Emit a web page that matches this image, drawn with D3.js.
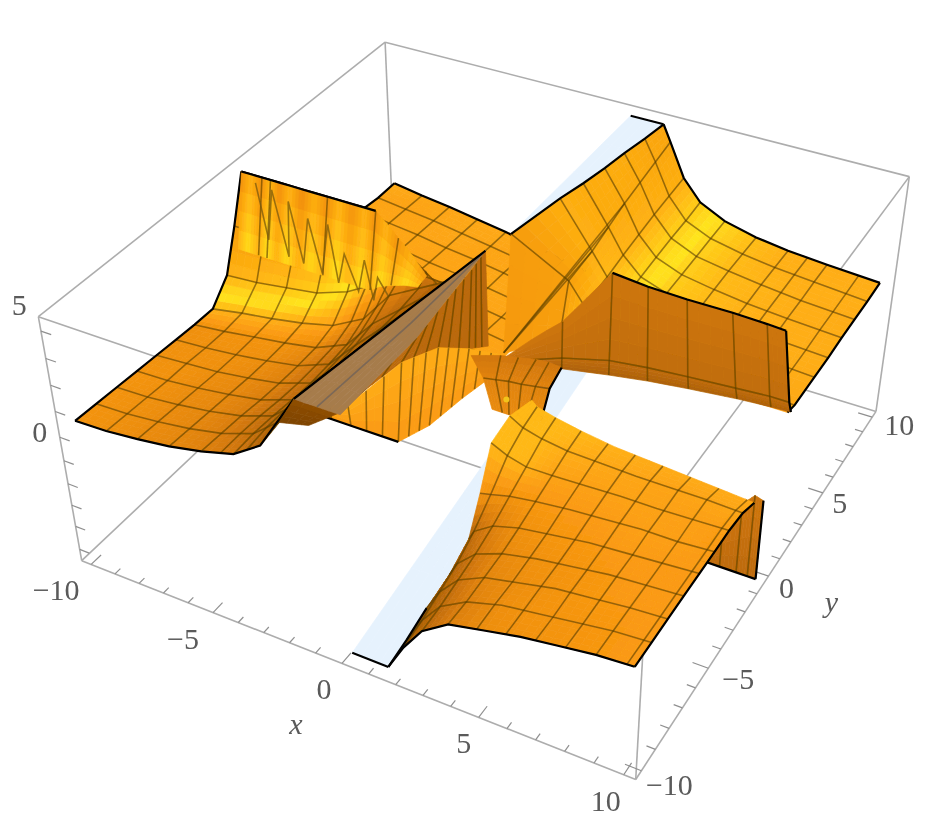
<!DOCTYPE html>
<meta charset="utf-8">
<style>
  body { margin: 0; background: #fff; }
  text { font-family: "Liberation Serif", serif; fill: #5a5a5a; font-size: 30px; }
</style>

<!-- Load d3.js -->
<script src="https://d3js.org/d3.v7.min.js"></script>

<div id="my_dataviz"></div>

<script>
    // ---- tick values
    const xTicks = d3.range(-10, 11, 1), yTicks = d3.range(-10, 11, 1);
    const zTicks = [-4.7, -3.7, -2.8, -1.9, -0.95, 0, 1.15, 2.3, 3.45, 4.6];
    const xLabels = [-10, -5, 0, 5, 10], yLabels = [-10, -5, 0, 5, 10], zLabels = [0, 5];

    // ---- surface values
    // front sheet (x > 1, y < 0), its first column follows the neck
    const frontXs = [1.5, 2.1, 2.8, 3.75, 5, 6.25, 7.5, 8.75, 10];
    const frontYs = [-10, -8.85, -7.7, -6.55, -5.4, -4.25, -3.1, -2, -1];
    const frontEdgeX = [1.5, 1.5, 1.6, 1.8, 1.9, 1.7, 1.5, 1.6, 1.9];
    const frontZ = [
        [-5, -3.9, -2.9, -2.2, -1.9, -1.6, -1.4, -1.2, -1.1],
        [-4.8, -3.7, -2.8, -2.2, -1.8, -1.6, -1.4, -1.2, -1.1],
        [-4.3, -3.4, -2.6, -2.1, -1.8, -1.5, -1.35, -1.2, -1.1],
        [-3.7, -3.1, -2.4, -2, -1.7, -1.5, -1.3, -1.2, -1.1],
        [-3, -2.6, -2.1, -1.8, -1.6, -1.4, -1.3, -1.2, -1.1],
        [-2, -1.9, -1.7, -1.55, -1.4, -1.3, -1.2, -1.2, -1.1],
        [-0.8, -1.1, -1.3, -1.3, -1.25, -1.2, -1.2, -1.15, -1.1],
        [-0.4, -0.7, -0.9, -1.05, -1.1, -1.15, -1.15, -1.15, -1.2],
        [-0.3, -0.5, -0.7, -0.9, -1.1, -1.2, -1.3, -1.4, -1.5]
    ];

    // back right sheet, its first column follows the slanted ridge
    const rightXs = [0, 1.7, 2.3, 3, 4, 5.25, 6.5, 8, 10];
    const rightYs = [1.35, 2, 3.75, 5, 6.25, 7.5, 8.75, 10];
    const rightRidgeX = [0.3, 0.05, 0.45, 0.7, 0.9, 1.05, 1.25, 1.4];
    const rightRidgeY = [0, 1, 3.75, 5, 6.25, 7.5, 8.75, 10];
    const rightZ = [
        [0.5, 0.6, 0.6, 0.6, 0.6, 0.6, 0.6, 0.6, 0.6],
        [5, 2.9, 2, 1.4, 1.1, 0.9, 0.75, 0.6, 0.45],
        [5, 3.1, 2.15, 1.5, 1.15, 0.9, 0.75, 0.6, 0.45],
        [5, 3.4, 2.35, 1.6, 1.2, 0.95, 0.8, 0.6, 0.45],
        [5, 3.7, 2.5, 1.7, 1.25, 1, 0.8, 0.65, 0.5],
        [5, 3.9, 2.65, 1.8, 1.3, 1.05, 0.85, 0.65, 0.5],
        [5, 4.1, 2.75, 1.85, 1.35, 1.05, 0.85, 0.7, 0.5],
        [5, 4.3, 2.85, 1.95, 1.4, 1.05, 0.85, 0.7, 0.55]
    ];

    // left sheet, its last column follows the edge of the grey cap
    const leftXs = [-10, -8.75, -7.5, -6.25, -5, -3.75, -2.7, 0];
    const leftYs = [-10, -8.9, -7.8, -6.7, -5.6, -4.5, -3.4, -2.3, -1.3, -0.6, 0.1];
    const leftEdgeX = [-1.3, -1.18, -1.05, -0.93, -0.8, -0.68, -0.55, -0.45, -1.2, -1.9, -2.6];
    const leftZ = [
        [0.6, 0.65, 0.8, 1, 1.3, 1.7, 2.5, 5],
        [0.55, 0.6, 0.75, 0.95, 1.25, 1.75, 2.7, 5],
        [0.5, 0.55, 0.7, 0.9, 1.2, 1.7, 2.7, 5],
        [0.45, 0.5, 0.65, 0.85, 1.1, 1.6, 2.7, 5],
        [0.4, 0.5, 0.6, 0.8, 1.05, 1.55, 2.7, 5],
        [0.35, 0.45, 0.6, 0.8, 1.05, 1.6, 2.8, 5],
        [0.3, 0.45, 0.65, 0.85, 1.1, 1.7, 3, 5],
        [0.3, 0.55, 0.75, 1, 1.35, 2.1, 3.5, 4.9],
        [1.2, 1.3, 1.5, 1.7, 2.2, 3, 4, 3.9],
        [3, 3, 3, 3.1, 3.3, 3.8, 3.9, 3.2],
        [5, 5, 5, 5, 5, 4.1, 2.8, 2.8]
    ];

    // back left plateau
    const backXs = [-10, -8.75, -7.5, -6.25, -5, -3.75, -2.5, -1.25];
    const backYs = [1.25, 2.5, 3.75, 5, 6.25, 7.5, 8.75, 10];
    const backZ = [
        [-0.9, -1, -1.1, -1.25, -1.35, -1.5, -1.7, -1.9],
        [-0.9, -1.05, -1.15, -1.3, -1.45, -1.6, -1.8, -2],
        [-0.95, -1.1, -1.2, -1.35, -1.55, -1.7, -1.9, -2.1],
        [-1, -1.1, -1.25, -1.4, -1.6, -1.8, -2, -2.2],
        [-1, -1.15, -1.3, -1.5, -1.65, -1.85, -2.05, -2.3],
        [-1, -1.2, -1.35, -1.55, -1.7, -1.9, -2.15, -2.4],
        [-1.1, -1.25, -1.4, -1.6, -1.8, -2, -2.25, -2.5],
        [-1.1, -1.3, -1.45, -1.65, -1.85, -2.1, -2.35, -2.6]
    ];

    // dark wall in front of the right sheet (y = 2)
    const wallBottomXs = [-0.9, 1.5, 3.3, 4.75, 6.25, 8, 9.2, 9.9];
    const wallTopXs = [-0.9, 1.5, 3.3, 4.6, 6, 7.6, 8.8, 9.45];
    const wallTop = [-1.5, 1, 3.8, 3.65, 3.6, 3.6, 3.55, 3.5];
    const wallMid = [-1.55, -0.6, -0.1, 0.1, 0.25, 0.4, 0.5, 0.5];
    const wallBottom = [-1.55, -1.05, -0.7, -0.45, -0.25, -0.05, 0.05, 0.1];

    // small wall behind the far end of the front sheet (y = -1)
    const stubXs = [8.3, 9, 9.6, 10, 10.3];
    const stubTop = [-3.8, -2.6, -1.7, -1.2, -1.3];
    const stubBottom = [-4.6, -4.6, -4.6, -4.6, -4.6];

    // spiky wall on the left sheet
    const spikeWallXs = [-10, -9.6, -9.15, -8.8, -8.4, -8, -7.5, -7, -6.5, -6, -5.5, -5, -4.6, -4.2, -3.75, -3.2, -2.7];
    const spikeTop = [5, 5, 5, 5, 5, 5, 5, 5, 5, 5, 5, 5, 5, 4.6, 4.1, 3.5, 2.8];
    const spikeLow = [1.9, 1.9, 1.9, 1.9, 1.9, 1.9, 1.9, 1.9, 1.9, 1.9, 1.9, 1.9, 1.9, 2.2, 2.4, 2.6, 2.7];
    const spikeTone = [0.1, -0.1, 0.1, -0.12, 0.1, -0.1, 0.12, -0.08, 0.1, -0.12, 0.08, -0.1, 0.1, -0.1, 0.08, -0.1, 0.05];
    const zigzagX = [-9.15, -8.8, -8.5, -8, -7.85, -7.4, -7.1, -6.65, -6.3, -6, -5.7, -5.2, -4.9, -4.6, -4.4, -4];
    const zigzagZ = [5, 2.6, 4.9, 2.1, 4.6, 2, 4.1, 1.8, 4.1, 1.6, 3, 1.5, 3, 1.3, 2.4, 1.7];

    // pieces given node by node as [x, y, z]
    const blueLow = [[[0.15, -10, -5], [1.5, -10, -5]], [[-1.45, 7.7, -5], [-0.1, 8, -5]]];
    const blueHigh = [[[0.05, 1, 5], [1.4, 1, 5]], [[0.1, 10, 5], [1.4, 10, 5]]];
    const greyCap = [
        [[-1.3, -10, 5], [-0.5, -10, 5], [0.3, -10, 5]],
        [[-0.75, -5, 5], [-0.25, -5, 5], [0.3, -5.6, 5]],
        [[-0.2, -0.3, 5], [-0.2, -0.3, 5], [-0.2, -0.3, 5]]
    ];
    const capWall = [
        [[0.3, -10, 5], [0.3, -5.6, 5], [0.1, -3.3, 5], [-0.05, -1.5, 5], [-0.2, -0.3, 5]],
        [[-0.05, -9.4, 4.7], [0.35, -6.6, 4.7], [0.95, -5.4, 4.7], [1.8, -5, 4.7], [2.25, -4.6, 4.7]]
    ];
    const underCap = [
        [[-1.35, -10, 4.7], [0.65, -10, 4.7], [2.25, -10, 4.7], [2.65, -8.9, 4.7], [2.85, -7.3, 4.7], [3.15, -5.6, 4.7]],
        [[-1.35, -10, 4.7], [0.05, -9.2, 4.7], [0.35, -6.6, 4.7], [0.95, -5.4, 4.7], [1.8, -5, 4.7], [2.85, -4.8, 4.7]]
    ];
    const wedge = [
        [[-1.9, -10, 3.8], [-0.85, -10, 4.1]],
        [[-1.3, -10, 5], [0.2, -10, 5]]
    ];
    const neck = [
        [[0, -0.3, -1.8], [0.4, -0.3, -1.8], [0.66, -0.3, -1.8], [1, -0.3, -1.8], [1.3, -0.3, -1.8], [1.9, -0.3, -1.6]],
        [[-1, 0.9, -1.6], [-0.5, 0.9, -1.5], [0, 0.9, -1.4], [0.5, 0.9, -1.35], [1.05, 0.9, -1.25], [1.6, 0.9, -1.15]],
        [[-2.1, 2, -1.7], [-0.9, 2, -1.3], [-0.2, 2, -1.15], [0.5, 2, -1], [1, 2, -0.95], [1.5, 2, -1]]
    ];
    const neckDot = [0.56, -0.3, -1.2];

    // ---- layout
    const width = 939, height = 835, subdiv = 4;
    const boxMin = -10.4, boxMax = 10.4, boxZMin = -5.2, boxZMax = 5.2;
    const xLabelDx = [-35, -30, -18, -15, -18], yLabelDx = [28, 30, 18, 17, 27], yLabelDy = [24, 21, 22, 20, 18];
    const zLabelDy = [5, -6];

    // where the corners of the box land on the page, [xi, yi, zi, px, py]
    const cameraCorners = [
        [0, 0, 1, 40, 315], [0, 1, 1, 385, 41], [1, 1, 1, 908, 176], [1, 0, 1, 650, 530],
        [0, 0, 0, 80, 560], [1, 0, 0, 636, 778], [1, 1, 0, 877, 410], [0, 1, 0, 395, 268]
    ];

    const xScale = d3.scaleLinear().domain([boxMin, boxMax]).range([0, 1]);
    const yScale = d3.scaleLinear().domain([boxMin, boxMax]).range([0, 1]);
    const zScale = d3.scaleLinear().domain([boxZMin, 0, boxZMax]).range([0, 0.53, 1]);

    // fit a camera matrix to the 8 corners (normal equations)
    function fitCamera(corners) {
        const rows = [];
        corners.forEach(function (c) {
            const [X, Y, Z, u, v] = c;
            rows.push([X, Y, Z, 1, 0, 0, 0, 0, -u * X, -u * Y, -u * Z, u]);
            rows.push([0, 0, 0, 0, X, Y, Z, 1, -v * X, -v * Y, -v * Z, v]);
        });
        const n = 11;
        const m = d3.range(n).map(i => d3.range(n + 1).map(j => d3.sum(rows, r => r[i] * r[j])));
        for (let i = 0; i < n; i++) {
            let best = i;
            for (let k = i + 1; k < n; k++) if (Math.abs(m[k][i]) > Math.abs(m[best][i])) best = k;
            [m[i], m[best]] = [m[best], m[i]];
            for (let k = 0; k < n; k++) {
                if (k === i) continue;
                const f = m[k][i] / m[i][i];
                for (let j = i; j <= n; j++) m[k][j] -= f * m[i][j];
            }
        }
        return m.map((r, i) => r[n] / r[i]);
    }
    const cam = fitCamera(cameraCorners);

    function project(p) {
        const X = xScale(p[0]), Y = yScale(p[1]), Z = zScale(p[2]);
        const w = cam[8] * X + cam[9] * Y + cam[10] * Z + 1;
        return [(cam[0] * X + cam[1] * Y + cam[2] * Z + cam[3]) / w,
                (cam[4] * X + cam[5] * Y + cam[6] * Z + cam[7]) / w];
    }

    // tone -> colour, bright yellow on moderate slopes that face the light
    const toneColor = d3.scaleLinear()
        .domain([-1, -0.6, -0.25, 0, 0.12, 0.3, 0.55, 0.8])
        .range(["#6a3800", "#9c5605", "#d67a0a", "#fb9a12", "#ffb015", "#ffe41e", "#ffb312", "#f08a0e"]);

    const svg = d3.select("#my_dataviz")
        .append("svg")
        .attr("width", width)
        .attr("height", height);

    svg.append("defs").append("filter").attr("id", "soft")
        .attr("filterUnits", "userSpaceOnUse")
        .attr("x", 0).attr("y", 0).attr("width", width).attr("height", height)
        .append("feGaussianBlur").attr("stdDeviation", 0.6);

    const root = svg.append("g").attr("filter", "url(#soft)");
    const line = d3.line();

    // ---- box
    const edges3d = [
        [[0, 0, 1], [0, 1, 1]], [[0, 1, 1], [1, 1, 1]], [[1, 1, 1], [1, 0, 1]], [[1, 0, 1], [0, 0, 1]],
        [[0, 0, 0], [0, 1, 0]], [[0, 1, 0], [1, 1, 0]], [[1, 1, 0], [1, 0, 0]], [[1, 0, 0], [0, 0, 0]],
        [[0, 0, 0], [0, 0, 1]], [[0, 1, 0], [0, 1, 1]], [[1, 1, 0], [1, 1, 1]], [[1, 0, 0], [1, 0, 1]]
    ];
    const corner = c => [c[0] ? boxMax : boxMin, c[1] ? boxMax : boxMin, c[2] ? boxZMax : boxZMin];
    root.append("g").selectAll("path").data(edges3d).join("path")
        .attr("d", d => line(d.map(c => project(corner(c)))))
        .attr("fill", "none").attr("stroke", "#adadad").attr("stroke-width", 1.6);

    // ticks
    const ticks = root.append("g").attr("stroke", "#8f8f8f").attr("stroke-width", 1.2);
    function tick(from, to) {
        ticks.append("path").attr("d", line([project(from), project(to)])).attr("fill", "none");
    }
    xTicks.forEach(function (v) {
        const len = v % 5 === 0 ? 0.55 : 0.3;
        tick([v, boxMin, boxZMin], [v, boxMin + len, boxZMin]);
    });
    yTicks.forEach(function (v) {
        const len = v % 5 === 0 ? 0.55 : 0.3;
        tick([boxMax, v, boxZMin], [boxMax - len, v, boxZMin]);
    });
    zTicks.forEach(function (v) {
        tick([boxMin, boxMin, v], [boxMin + 0.4, boxMin, v]);
    });

    const fmt = v => (v < 0 ? "\u2212" : "") + Math.abs(v);
    function label(txt, p, dx, dy, italic) {
        const q = project(p);
        root.append("text").attr("x", q[0] + dx).attr("y", q[1] + dy)
            .attr("text-anchor", "middle")
            .style("font-style", italic ? "italic" : "normal")
            .text(txt);
    }
    xLabels.forEach((v, i) => label(fmt(v), [v, boxMin, boxZMin], xLabelDx[i], 36));
    yLabels.forEach((v, i) => label(fmt(v), [boxMax, v, boxZMin], yLabelDx[i], yLabelDy[i]));
    zLabels.forEach((v, i) => label(fmt(v), [boxMin, boxMin, v], -20, zLabelDy[i]));
    label("x", [0, boxMin, boxZMin], -46, 71, true);
    label("y", [boxMax, 0, boxZMin], 63, 36, true);

    // ---- patch helpers
    function gridNodes(xs, ys, zs, firstX, lastX, firstY) {
        return ys.map(function (y, i) {
            return xs.map(function (x, j) {
                let px = x, py = y;
                if (firstX && j === 0) px = firstX[i];
                if (lastX && j === xs.length - 1) px = lastX[i];
                if (firstY && j === 0) py = firstY[i];
                return [px, py, zs[i][j]];
            });
        });
    }

    const lerp = (a, b, t) => a + (b - a) * t;

    // slope tone of a node, taken from its neighbours
    function nodeTone(nodes, i, j, weights) {
        const up = nodes[Math.min(i + 1, nodes.length - 1)][j], dn = nodes[Math.max(i - 1, 0)][j];
        const rt = nodes[i][Math.min(j + 1, nodes[i].length - 1)], lt = nodes[i][Math.max(j - 1, 0)];
        const sc = [1 / 20.8, 1 / 20.8, 0.4 / 10.4];
        const a = rt.map((v, k) => (v - lt[k]) * sc[k]);
        const b = up.map((v, k) => (v - dn[k]) * sc[k]);
        let n = [a[1] * b[2] - a[2] * b[1], a[2] * b[0] - a[0] * b[2], a[0] * b[1] - a[1] * b[0]];
        const len = Math.hypot(n[0], n[1], n[2]) || 1;
        if (n[2] < 0) n = n.map(v => -v);
        return (weights[0] * n[0] - weights[1] * n[1]) / len;
    }

    function drawPatch(nodes, opts) {
        opts = opts || {};
        const g = root.append("g");
        const nr = nodes.length, nc = nodes[0].length;
        const weights = opts.weights || [0.75, 0.75];
        const toneMax = opts.toneMax === undefined ? 2 : opts.toneMax;
        const tones = nodes.map(function (row, i) {
            return row.map(function (d, j) {
                if (opts.toneRows) return opts.toneRows[i] + (opts.toneCols ? opts.toneCols[j] : 0);
                return Math.min(toneMax, nodeTone(nodes, i, j, weights) + (opts.toneBase || 0));
            });
        });
        const point = function (i, j, s, t) {
            const a = nodes[i][j], b = nodes[i][j + 1], c = nodes[i + 1][j + 1], d = nodes[i + 1][j];
            return [0, 1, 2].map(k => lerp(lerp(a[k], b[k], t), lerp(d[k], c[k], t), s));
        };
        const cells = [];
        for (let i = 0; i < nr - 1; i++) {
            for (let j = 0; j < nc - 1; j++) {
                for (let s = 0; s < subdiv; s++) {
                    for (let t = 0; t < subdiv; t++) {
                        const s0 = s / subdiv, s1 = (s + 1) / subdiv, t0 = t / subdiv, t1 = (t + 1) / subdiv;
                        const tm = (t0 + t1) / 2, sm = (s0 + s1) / 2;
                        cells.push({
                            poly: [point(i, j, s0, t0), point(i, j, s0, t1), point(i, j, s1, t1), point(i, j, s1, t0)].map(project),
                            tone: lerp(lerp(tones[i][j], tones[i][j + 1], tm), lerp(tones[i + 1][j], tones[i + 1][j + 1], tm), sm)
                        });
                    }
                }
            }
        }
        g.selectAll("path.cell").data(cells).join("path")
            .attr("class", "cell")
            .attr("d", d => line(d.poly) + "Z")
            .attr("fill", d => opts.fill || toneColor(d.tone))
            .attr("stroke", d => opts.fill || toneColor(d.tone))
            .attr("stroke-width", 0.7);

        // mesh lines, a column index may be fractional
        const meshColor = opts.meshColor || "#5a3f00", meshOpacity = opts.meshOpacity || 0.62;
        const meshPath = pts => g.append("path").attr("d", line(pts.map(project)))
            .attr("fill", "none").attr("stroke", meshColor).attr("stroke-opacity", meshOpacity).attr("stroke-width", 1.6);
        if (opts.meshRows !== false) {
            for (let i = 1; i < nr - 1; i++) meshPath(nodes[i]);
        }
        const cols = opts.meshCols || d3.range(1, nc - 1);
        cols.forEach(function (c) {
            const j = Math.min(Math.floor(c), nc - 2), t = c - j;
            meshPath(nodes.map(r => [0, 1, 2].map(q => lerp(r[j][q], r[j + 1][q], t))));
        });
        if (opts.stripes) {
            for (let j = 0; j < nc - 1; j++) {
                for (let k = 1; k < opts.stripes; k++) {
                    const t = k / opts.stripes;
                    meshPath(nodes.map(r => [0, 1, 2].map(q => lerp(r[j][q], r[j + 1][q], t))));
                }
            }
        }

        // black outline pieces
        (opts.edges || []).forEach(function (e) {
            let pts;
            if (e.row !== undefined) pts = nodes[e.row];
            else pts = nodes.map(r => r[e.col]);
            pts = pts.slice(e.from || 0, e.to === undefined ? pts.length : e.to + 1);
            g.append("path").attr("d", line(pts.map(project)))
                .attr("fill", "none").attr("stroke", "#000").attr("stroke-width", 2.2);
        });
    }

    // ---- surface, painted back to front
    const blue = "#e6f2fd";
    drawPatch(blueLow, { fill: blue, edges: [{ row: 0 }], meshRows: false, meshCols: [] });
    drawPatch(blueHigh, { fill: blue, edges: [{ row: 1 }], meshRows: false, meshCols: [] });

    drawPatch(gridNodes(backXs, backYs, backZ), { edges: [{ row: 7 }, { col: 0 }] });

    const rightNodes = gridNodes(rightXs, rightYs, rightZ, rightRidgeX, null, rightRidgeY);
    drawPatch(rightNodes, {
        weights: [0.62, 0.35],
        toneBase: 0.06,
        meshCols: [1, 2, 3, 4, 5, 6, 6.5, 7, 7.6],
        edges: [{ row: 7 }, { col: 8 }, { col: 0, from: 1 }]
    });
    // fan of mesh lines rising from the foot of the ridge
    d3.range(2, 5).forEach(function (i) {
        root.append("path")
            .attr("d", line([project(rightNodes[0][0]), project(rightNodes[i][1])]))
            .attr("fill", "none").attr("stroke", "#5a3f00").attr("stroke-opacity", 0.6).attr("stroke-width", 1.6);
    });

    const wallRows = [
        wallBottomXs.map((x, j) => [x, 2, wallBottom[j]]),
        wallBottomXs.map((x, j) => [lerp(x, wallTopXs[j], 0.2), 2, wallMid[j]]),
        wallTopXs.map((x, j) => [x, 2, wallTop[j]])
    ];
    drawPatch(wallRows, {
        toneRows: [-0.5, -0.38, -0.3],
        edges: [{ row: 2, from: 2 }, { col: 7 }]
    });

    drawPatch([stubXs.map((x, j) => [x, -1, stubBottom[j]]), stubXs.map((x, j) => [x, -1, stubTop[j]])], {
        toneRows: [-0.4, -0.3],
        edges: [{ row: 0 }, { col: 4 }]
    });

    drawPatch(gridNodes(leftXs, leftYs, leftZ, null, leftEdgeX), {
        meshCols: [1, 2, 3, 4, 4.6, 5, 5.5, 6, 6.5],
        edges: [{ row: 0 }, { col: 0 }, { row: 10, to: 4 }, { col: 7, to: 7 }]
    });

    // spiky band on top of the left sheet
    drawPatch([
        spikeWallXs.map((x, j) => [x, -0.5, spikeLow[j]]),
        spikeWallXs.map((x, j) => [x, 0.1, spikeTop[j]])
    ], {
        toneRows: [0.42, 0.68],
        toneCols: spikeTone,
        meshRows: false,
        meshCols: [2, 3, 8, 12, 14],
        edges: [{ row: 1, to: 12 }]
    });
    root.append("path")
        .attr("d", line(zigzagX.map((x, i) => project([x, -0.3, zigzagZ[i]]))))
        .attr("fill", "none").attr("stroke", "#7a5a08").attr("stroke-opacity", 0.75).attr("stroke-width", 1.6);

    drawPatch(capWall, { toneRows: [-0.42, -0.42], stripes: 3, meshRows: false });
    drawPatch(underCap, { toneRows: [0, 0.1], stripes: 3, meshRows: false, edges: [{ row: 0, to: 2 }] });
    drawPatch(wedge, { toneRows: [-0.85, -0.7], meshRows: false, meshCols: [] });
    drawPatch(greyCap, {
        fill: "#a67b4c", meshColor: "#5f5a5a", meshRows: false,
        edges: [{ col: 0 }]
    });

    drawPatch(neck, { toneRows: [-0.12, -0.18, -0.28], stripes: 1, edges: [{ col: 5 }] });
    root.append("circle")
        .attr("cx", project(neckDot)[0]).attr("cy", project(neckDot)[1])
        .attr("r", 3).attr("fill", "#f2c41a");

    drawPatch(gridNodes(frontXs, frontYs, frontZ, frontEdgeX), {
        weights: [0.75, 0.05],
        toneBase: 0.05,
        toneMax: 0.15,
        meshCols: [1, 2, 3, 3.8, 4.6, 5.4, 6.2, 7, 7.8],
        edges: [{ row: 0 }, { col: 8 }, { col: 0, to: 2 }]
    });
</script>
